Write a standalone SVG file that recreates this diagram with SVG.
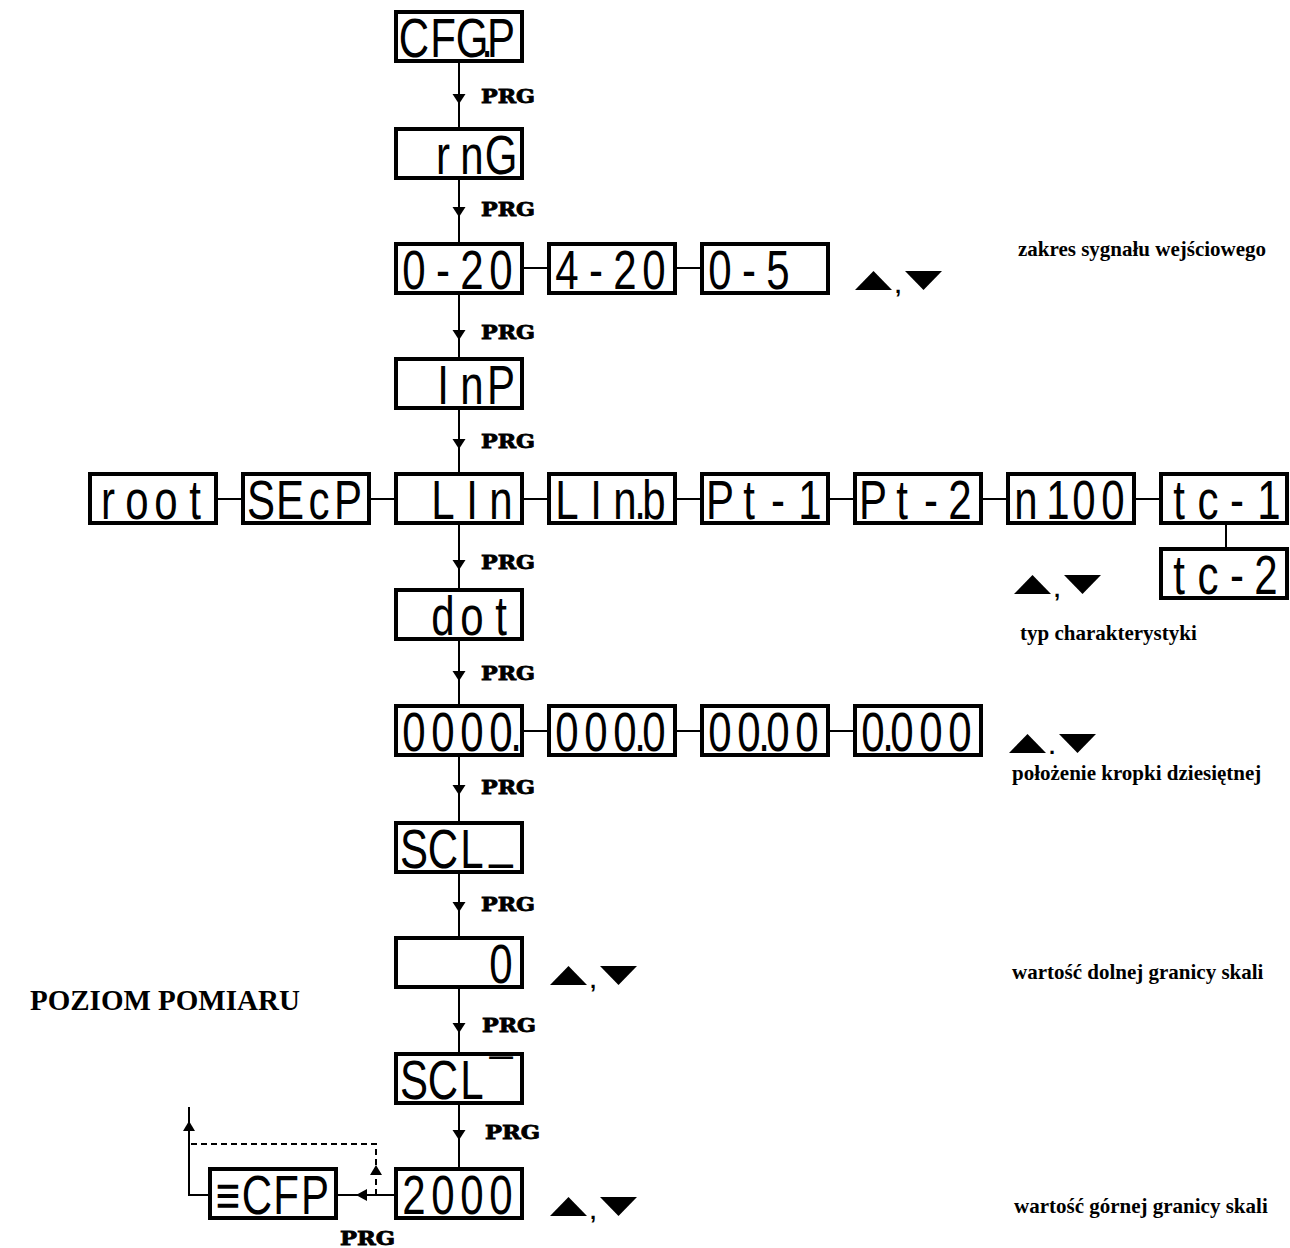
<svg xmlns="http://www.w3.org/2000/svg" width="1290" height="1248" viewBox="0 0 1290 1248">
<style>
.bx{fill:#fff;stroke:#000;stroke-width:4}
.sg{font-family:'Liberation Sans',Arial,sans-serif;font-size:42px;text-anchor:middle;fill:#000}
.prg{font-family:'DejaVu Serif',serif;font-weight:bold;font-size:18px;fill:#000;stroke:#000;stroke-width:0.8}
.lbl{font-family:'Liberation Serif','Times New Roman',serif;font-weight:bold;font-size:21px;fill:#000}
.ttl{font-family:'Liberation Serif','Times New Roman',serif;font-weight:bold;font-size:29px;fill:#000}
.ln{stroke:#000;stroke-width:2;fill:none}
.ds{stroke:#000;stroke-width:2;fill:none;stroke-dasharray:6 4}
.ah{fill:#000}
.pn{font-family:'Liberation Sans',Arial,sans-serif;font-weight:bold;font-size:22px;fill:#000}
</style>
<defs>
<g id="udc">
<polygon points="0,19 18.5,0 37,19" class="ah"/>
<text x="40" y="22" class="pn">,</text>
<polygon points="50,0 87,0 68.5,19" class="ah"/>
</g>
<g id="udd">
<polygon points="0,19 18.5,0 37,19" class="ah"/>
<text x="40" y="20" class="pn">.</text>
<polygon points="50,0 87,0 68.5,19" class="ah"/>
</g>
</defs>
<rect width="1290" height="1248" fill="#fff"/>

<g id="connectors">
<line class="ln" x1="459" y1="63" x2="459" y2="127"/>
<line class="ln" x1="459" y1="180" x2="459" y2="242"/>
<line class="ln" x1="459" y1="295" x2="459" y2="357"/>
<line class="ln" x1="459" y1="410" x2="459" y2="472"/>
<line class="ln" x1="459" y1="525" x2="459" y2="588"/>
<line class="ln" x1="459" y1="641" x2="459" y2="704"/>
<line class="ln" x1="459" y1="757" x2="459" y2="821"/>
<line class="ln" x1="459" y1="874" x2="459" y2="936"/>
<line class="ln" x1="459" y1="989" x2="459" y2="1052"/>
<line class="ln" x1="459" y1="1105" x2="459" y2="1167"/>
<polygon class="ah" points="452.5,94 465.5,94 459,104"/>
<polygon class="ah" points="452.5,207 465.5,207 459,217"/>
<polygon class="ah" points="452.5,330 465.5,330 459,340"/>
<polygon class="ah" points="452.5,439 465.5,439 459,449"/>
<polygon class="ah" points="452.5,560 465.5,560 459,570"/>
<polygon class="ah" points="452.5,671 465.5,671 459,681"/>
<polygon class="ah" points="452.5,785 465.5,785 459,795"/>
<polygon class="ah" points="452.5,902 465.5,902 459,912"/>
<polygon class="ah" points="452.5,1023 465.5,1023 459,1033"/>
<polygon class="ah" points="452.5,1130 465.5,1130 459,1140"/>
<line class="ln" x1="524" y1="268" x2="547" y2="268"/>
<line class="ln" x1="677" y1="268" x2="700" y2="268"/>
<line class="ln" x1="218" y1="499" x2="241" y2="499"/>
<line class="ln" x1="371" y1="499" x2="394" y2="499"/>
<line class="ln" x1="524" y1="499" x2="547" y2="499"/>
<line class="ln" x1="677" y1="499" x2="700" y2="499"/>
<line class="ln" x1="830" y1="499" x2="853" y2="499"/>
<line class="ln" x1="983" y1="499" x2="1006" y2="499"/>
<line class="ln" x1="1136" y1="499" x2="1159" y2="499"/>
<line class="ln" x1="1226" y1="525" x2="1226" y2="547"/>
<line class="ln" x1="524" y1="731" x2="547" y2="731"/>
<line class="ln" x1="677" y1="731" x2="700" y2="731"/>
<line class="ln" x1="830" y1="731" x2="853" y2="731"/>
<line class="ln" x1="394" y1="1195" x2="338" y2="1195"/>
<polygon class="ah" points="356,1195 367,1189 367,1201"/>
<polyline class="ln" points="208,1195 189,1195 189,1107"/>
<polygon class="ah" points="189,1121 183,1131 195,1131"/>
<polyline class="ds" points="376,1195 376,1144 189,1144"/>
<polygon class="ah" points="376,1165 370,1175 382,1175"/>
</g>

<g id="prg-labels">
<text class="prg" x="481" y="103" textLength="54" lengthAdjust="spacingAndGlyphs">PRG</text>
<text class="prg" x="481" y="216" textLength="54" lengthAdjust="spacingAndGlyphs">PRG</text>
<text class="prg" x="481" y="339" textLength="54" lengthAdjust="spacingAndGlyphs">PRG</text>
<text class="prg" x="481" y="448" textLength="54" lengthAdjust="spacingAndGlyphs">PRG</text>
<text class="prg" x="481" y="569" textLength="54" lengthAdjust="spacingAndGlyphs">PRG</text>
<text class="prg" x="481" y="680" textLength="54" lengthAdjust="spacingAndGlyphs">PRG</text>
<text class="prg" x="481" y="794" textLength="54" lengthAdjust="spacingAndGlyphs">PRG</text>
<text class="prg" x="481" y="911" textLength="54" lengthAdjust="spacingAndGlyphs">PRG</text>
<text class="prg" x="482" y="1032" textLength="54" lengthAdjust="spacingAndGlyphs">PRG</text>
<text class="prg" x="485" y="1139" textLength="55" lengthAdjust="spacingAndGlyphs">PRG</text>
<text class="prg" x="340" y="1245" textLength="55" lengthAdjust="spacingAndGlyphs">PRG</text>
</g>

<g id="n-cfgp"><rect class="bx" x="396" y="12" width="126" height="49"/><text class="sg" transform="translate(0 57) scale(1 1.3)" x="414 443 472 487 501" y="0">CFG.P</text></g>
<g id="n-rng"><rect class="bx" x="396" y="129" width="126" height="49"/><text class="sg" transform="translate(0 174) scale(1 1.3)" x="443 472 501" y="0">rnG</text></g>
<g id="n-0-20"><rect class="bx" x="396" y="244" width="126" height="49"/><text class="sg" transform="translate(0 289) scale(1 1.3)" x="414 443 472 501" y="0">0-20</text></g>
<g id="n-4-20"><rect class="bx" x="549" y="244" width="126" height="49"/><text class="sg" transform="translate(0 289) scale(1 1.3)" x="567 596 625 654" y="0">4-20</text></g>
<g id="n-0-5"><rect class="bx" x="702" y="244" width="126" height="49"/><text class="sg" transform="translate(0 289) scale(1 1.3)" x="720 749 778" y="0">0-5</text></g>
<g id="n-inp"><rect class="bx" x="396" y="359" width="126" height="49"/><text class="sg" transform="translate(0 404) scale(1 1.3)" x="443 472 501" y="0">InP</text></g>
<g id="n-root"><rect class="bx" x="90" y="474" width="126" height="49"/><text class="sg" transform="translate(0 519) scale(1 1.3)" x="108 137 166 195" y="0">root</text></g>
<g id="n-secp"><rect class="bx" x="243" y="474" width="126" height="49"/><text class="sg" transform="translate(0 519) scale(1 1.3)" x="261 290 319 348" y="0">SEcP</text></g>
<g id="n-lin"><rect class="bx" x="396" y="474" width="126" height="49"/><text class="sg" transform="translate(0 519) scale(1 1.3)" x="443 472 501" y="0">LIn</text></g>
<g id="n-linb"><rect class="bx" x="549" y="474" width="126" height="49"/><text class="sg" transform="translate(0 519) scale(1 1.3)" x="567 596 625 640 654" y="0">LIn.b</text></g>
<g id="n-pt1"><rect class="bx" x="702" y="474" width="126" height="49"/><text class="sg" transform="translate(0 519) scale(1 1.3)" x="720 749 778 810" y="0">Pt-1</text></g>
<g id="n-pt2"><rect class="bx" x="855" y="474" width="126" height="49"/><text class="sg" transform="translate(0 519) scale(1 1.3)" x="873 902 931 960" y="0">Pt-2</text></g>
<g id="n-n100"><rect class="bx" x="1008" y="474" width="126" height="49"/><text class="sg" transform="translate(0 519) scale(1 1.3)" x="1026 1058 1084 1113" y="0">n100</text></g>
<g id="n-tc1"><rect class="bx" x="1161" y="474" width="126" height="49"/><text class="sg" transform="translate(0 519) scale(1 1.3)" x="1179 1208 1237 1269" y="0">tc-1</text></g>
<g id="n-tc2"><rect class="bx" x="1161" y="549" width="126" height="49"/><text class="sg" transform="translate(0 594) scale(1 1.3)" x="1179 1208 1237 1266" y="0">tc-2</text></g>
<g id="n-dot"><rect class="bx" x="396" y="590" width="126" height="49"/><text class="sg" transform="translate(0 635) scale(1 1.3)" x="443 472 501" y="0">dot</text></g>
<g id="n-0000p"><rect class="bx" x="396" y="706" width="126" height="49"/><text class="sg" transform="translate(0 751) scale(1 1.3)" x="414 443 472 501 516" y="0">0000.</text></g>
<g id="n-000p0"><rect class="bx" x="549" y="706" width="126" height="49"/><text class="sg" transform="translate(0 751) scale(1 1.3)" x="567 596 625 640 654" y="0">000.0</text></g>
<g id="n-00p00"><rect class="bx" x="702" y="706" width="126" height="49"/><text class="sg" transform="translate(0 751) scale(1 1.3)" x="720 749 764 778 807" y="0">00.00</text></g>
<g id="n-0p000"><rect class="bx" x="855" y="706" width="126" height="49"/><text class="sg" transform="translate(0 751) scale(1 1.3)" x="873 888 902 931 960" y="0">0.000</text></g>
<g id="n-scl-lo"><rect class="bx" x="396" y="823" width="126" height="49"/><text class="sg" transform="translate(0 868) scale(1 1.3)" x="414 443 472" y="0">SCL</text><text class="sg" transform="translate(0 857) scale(1 1.3)" x="501" y="0">_</text></g>
<g id="n-zero"><rect class="bx" x="396" y="938" width="126" height="49"/><text class="sg" transform="translate(0 983) scale(1 1.3)" x="501" y="0">0</text></g>
<g id="n-scl-hi"><rect class="bx" x="396" y="1054" width="126" height="49"/><text class="sg" transform="translate(0 1099) scale(1 1.3)" x="414 443 472 501" y="0">SCL¯</text></g>
<g id="n-2000"><rect class="bx" x="396" y="1169" width="126" height="49"/><text class="sg" transform="translate(0 1214) scale(1 1.3)" x="414 443 472 501" y="0">2000</text></g>
<g id="n-ecfp"><rect class="bx" x="210" y="1169" width="126" height="49"/><text class="sg" transform="translate(0 1214) scale(1 1.3)" x="228 257 286 315" y="0">≡CFP</text></g>

<g id="updown">
<use href="#udc" x="855" y="271"/>
<use href="#udc" x="1014" y="575"/>
<use href="#udd" x="1009" y="734"/>
<use href="#udc" x="550" y="966"/>
<use href="#udc" x="550" y="1197"/>
</g>

<g id="labels">
<text class="lbl" x="1018" y="256">zakres sygnału wejściowego</text>
<text class="lbl" x="1020" y="640">typ charakterystyki</text>
<text class="lbl" x="1012" y="780">położenie kropki dziesiętnej</text>
<text class="lbl" x="1012" y="979">wartość dolnej granicy skali</text>
<text class="lbl" x="1014" y="1213">wartość górnej granicy skali</text>
<text class="ttl" x="30" y="1010">POZIOM POMIARU</text>
</g>
</svg>
